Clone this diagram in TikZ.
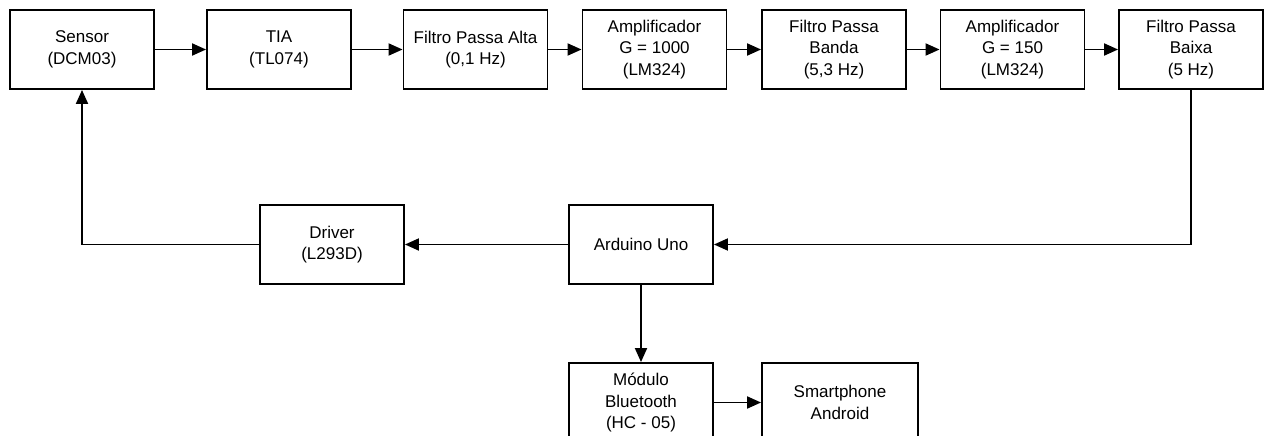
\documentclass[tikz,border=0pt]{standalone}
\usepackage{fontspec}
\setmainfont{Liberation Sans}
\usetikzlibrary{arrows.meta}

\tikzset{
  bloco/.style={draw=black, line width=1.9pt, minimum width=144pt, minimum height=79pt,
    align=center, inner sep=2pt, font=\fontsize{17}{21.5}\selectfont},
  seta/.style={line width=1.9pt, -{Triangle[length=14pt,width=12pt]}}
}

\begin{document}
\begin{tikzpicture}[x=1pt,y=-1pt]
  \useasboundingbox (0,0) rectangle (1269,436);

  \node[bloco] (a) at (82,49.5) {Sensor\\(DCM03)};
  \node[bloco] (b) at (279,49.5) {TIA\\(TL074)};
  \node[bloco] (c) at (475.5,49.5) {Filtro Passa Alta\\(0,1 Hz)};
  \node[bloco] (d) at (654.5,49.5) {Amplificador\\G = 1000\\(LM324)};
  \node[bloco] (e) at (834,49.5) {Filtro Passa\\Banda\\(5,3 Hz)};
  \node[bloco] (f) at (1012.5,49.5) {Amplificador\\G = 150\\(LM324)};
  \node[bloco] (g) at (1191,49.5) {Filtro Passa\\Baixa\\(5 Hz)};
  \node[bloco] (h) at (641,244.5) {Arduino Uno};
  \node[bloco] (i) at (332,244.5) {Driver\\(L293D)};
  \node[bloco] (j) at (641,402.5) {Módulo\\Bluetooth\\(HC - 05)};
  \node[bloco, minimum width=156pt] (k) at (840,402.5) {Smartphone\\Android};

  \draw[seta] (a) -- (b);
  \draw[seta] (b) -- (c);
  \draw[seta] (c) -- (d);
  \draw[seta] (d) -- (e);
  \draw[seta] (e) -- (f);
  \draw[seta] (f) -- (g);
  \draw[seta] (g.south) |- (h.east);
  \draw[seta] (h) -- (i);
  \draw[seta] (i.west) -| (a.south);
  \draw[seta] (h) -- (j);
  \draw[seta] (j) -- (k);
\end{tikzpicture}
\end{document}
